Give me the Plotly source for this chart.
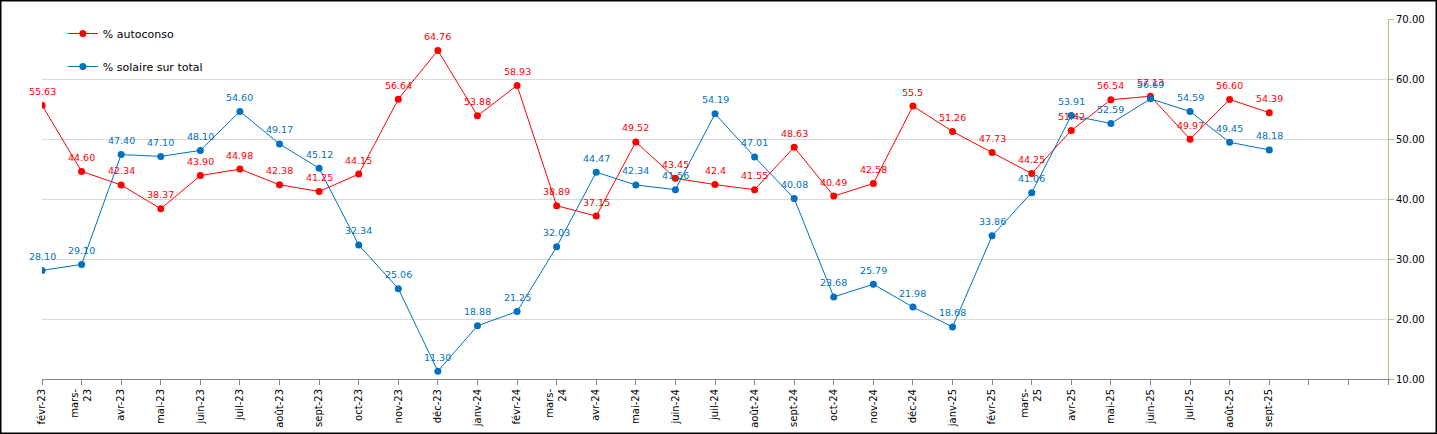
import plotly.graph_objects as go

months = ["févr-23", "mars-<br>23", "avr-23", "mai-23", "juin-23", "juil-23", "août-23", "sept-23",
          "oct-23", "nov-23", "déc-23", "janv-24", "févr-24", "mars-<br>24", "avr-24", "mai-24",
          "juin-24", "juil-24", "août-24", "sept-24", "oct-24", "nov-24", "déc-24", "janv-25",
          "févr-25", "mars-<br>25", "avr-25", "mai-25", "juin-25", "juil-25", "août-25", "sept-25"]

autoconso = [55.63, 44.60, 42.34, 38.37, 43.90, 44.98, 42.38, 41.25, 44.15, 56.64, 64.76, 53.88,
             58.93, 38.89, 37.15, 49.52, 43.45, 42.4, 41.55, 48.63, 40.49, 42.58, 55.5, 51.26,
             47.73, 44.25, 51.42, 56.54, 57.13, 49.97, 56.60, 54.39]
autoconso_labels = ["55.63", "44.60", "42.34", "38.37", "43.90", "44.98", "42.38", "41.25", "44.15",
                    "56.64", "64.76", "53.88", "58.93", "38.89", "37.15", "49.52", "43.45", "42.4",
                    "41.55", "48.63", "40.49", "42.58", "55.5", "51.26", "47.73", "44.25", "51.42",
                    "56.54", "57.13", "49.97", "56.60", "54.39"]

solaire = [28.10, 29.10, 47.40, 47.10, 48.10, 54.60, 49.17, 45.12, 32.34, 25.06, 11.30, 18.88,
           21.25, 32.03, 44.47, 42.34, 41.56, 54.19, 47.01, 40.08, 23.68, 25.79, 21.98, 18.68,
           33.86, 41.06, 53.91, 52.59, 56.69, 54.59, 49.45, 48.18]
solaire_labels = ["%.2f" % v for v in solaire]

extra_slots = 2  # empty category slots after the last month
y_ticks = [10, 20, 30, 40, 50, 60, 70]

RED = "#FF0000"
BLUE = "#0070C0"

n = len(months)
xs = list(range(n))
total_slots = n + extra_slots

fig = go.Figure()
fig.add_trace(go.Scatter(
    x=xs, y=autoconso, mode="lines+markers", name="% autoconso",
    line=dict(color=RED, width=1), marker=dict(color=RED, size=7),
    legendgroup="a", hoverinfo="skip"))
fig.add_trace(go.Scatter(
    x=xs, y=solaire, mode="lines+markers", name="% solaire sur total",
    line=dict(color=BLUE, width=1), marker=dict(color=BLUE, size=7),
    legendgroup="b", hoverinfo="skip"))

annotations = []
for x, y, t in zip(xs, autoconso, autoconso_labels):
    annotations.append(dict(x=x, y=y, text=t, showarrow=False, yshift=14,
                            font=dict(color=RED, size=9.5, family="DejaVu Sans")))
for x, y, t in zip(xs, solaire, solaire_labels):
    annotations.append(dict(x=x, y=y, text=t, showarrow=False, yshift=14,
                            font=dict(color=BLUE, size=9.5, family="DejaVu Sans")))

W, H = 1437, 434
ml, mr, mt, mb = 42, 49, 19, 55
pw, ph = W - ml - mr, H - mt - mb

tickvals = list(range(total_slots + 1))
ticktext = months + [""] * (total_slots + 1 - n)

fig.update_layout(
    width=W, height=H,
    margin=dict(l=ml, r=mr, t=mt, b=mb, pad=0, autoexpand=False),
    paper_bgcolor="white", plot_bgcolor="white",
    font=dict(family="DejaVu Sans", size=10, color="#000000"),
    showlegend=True,
    legend=dict(x=0.0155, y=1.0, xanchor="left", yanchor="top",
                bgcolor="rgba(0,0,0,0)", tracegroupgap=14,
                font=dict(size=11, color="#000000"), itemwidth=30),
    annotations=annotations,
    xaxis=dict(range=[0, total_slots], tickmode="array", tickvals=tickvals, ticktext=ticktext,
               tickangle=-90, showgrid=False, zeroline=False, automargin=False,
               showline=True, linecolor="#868686", linewidth=1,
               ticks="outside", ticklen=5, tickcolor="#868686",
               tickfont=dict(size=10, color="#000000")),
    yaxis=dict(range=[10, 70], side="right", tickmode="array", tickvals=y_ticks,
               tickformat=".2f", showgrid=True, gridcolor="#D9D9D9", gridwidth=1,
               zeroline=False, showline=True, linecolor="#C4B48C", linewidth=1, automargin=False,
               ticks="outside", ticklen=5, tickcolor="#C4B48C",
               tickfont=dict(size=10, color="#000000")),
    shapes=[dict(type="rect", xref="paper", yref="paper",
                 x0=(0.75 - ml) / pw, x1=(W - 0.75 - ml) / pw,
                 y0=-(mb - 0.75) / ph, y1=1 + (mt - 0.75) / ph,
                 line=dict(color="black", width=1.5), layer="above")],
)

fig.write_html("out.html", config={"displayModeBar": False, "staticPlot": True},
               post_script="document.body.style.margin='0';document.body.style.overflow='hidden';")
